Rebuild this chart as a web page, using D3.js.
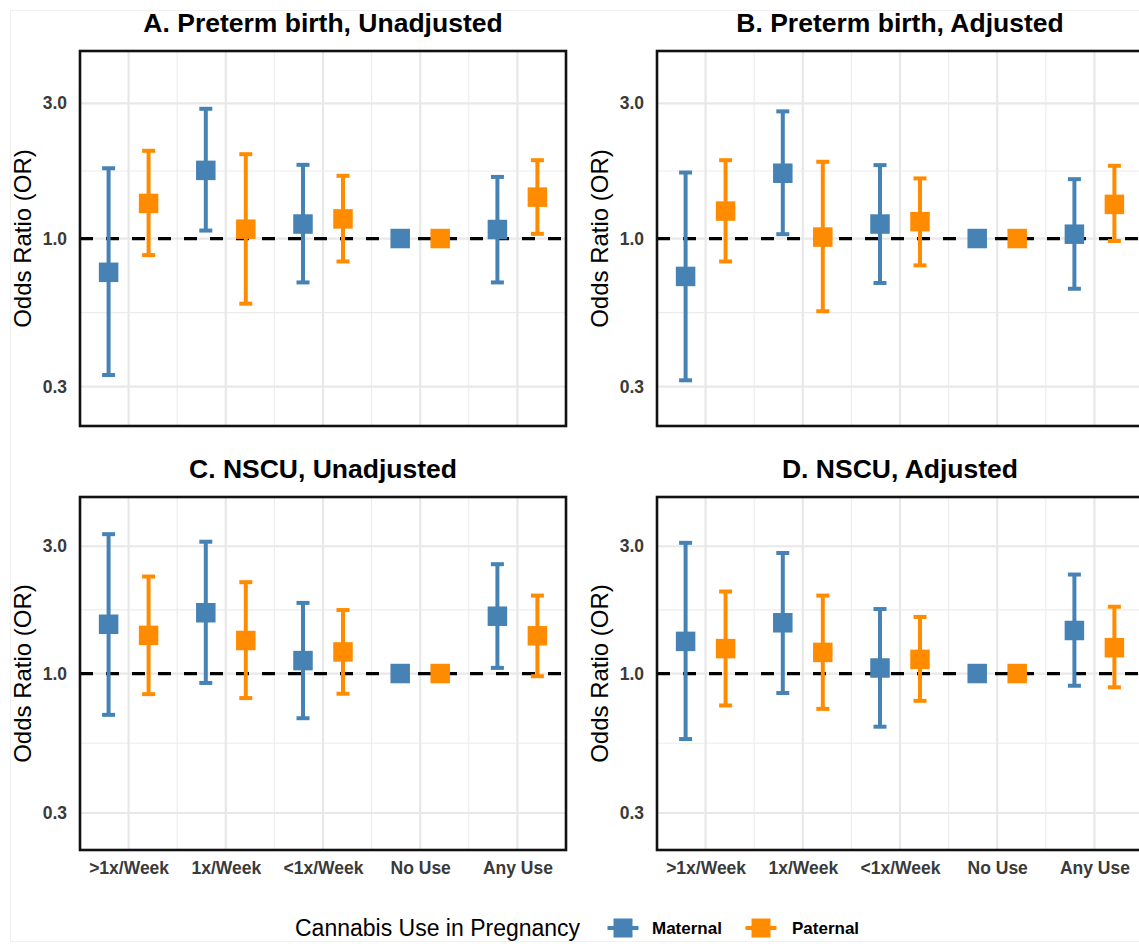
<!DOCTYPE html>
<html>
<head>
<meta charset="utf-8">
<script src="https://cdn.jsdelivr.net/npm/d3@7"></script>
<style>
  body { margin: 0; background: #fff; }
  text { font-family: "Liberation Sans", Arial, sans-serif; }
</style>
</head>
<body>
<script>
var W = 1139, H = 944;

var categories = [">1x/Week", "1x/Week", "<1x/Week", "No Use", "Any Use"];
var groups = ["Maternal", "Paternal"];
var panelTitles = ["A. Preterm birth, Unadjusted", "B. Preterm birth, Adjusted",
                   "C. NSCU, Unadjusted", "D. NSCU, Adjusted"];
var yTicks = [0.3, 1.0, 3.0];

// odds ratios and 95% CI, one row per panel (A, B, C, D), columns follow categories
// "No Use" is the reference group, so it has no interval
var maternalOR = [
  [0.76, 1.74, 1.125, 1, 1.076],
  [0.735, 1.70, 1.125, 1, 1.036],
  [1.53, 1.69, 1.118, 1, 1.64],
  [1.32, 1.55, 1.049, 1, 1.45]
];
var maternalLo = [
  [0.33, 1.067, 0.70, null, 0.70],
  [0.316, 1.036, 0.697, null, 0.665],
  [0.70, 0.922, 0.68, null, 1.05],
  [0.568, 0.845, 0.632, null, 0.90]
];
var maternalHi = [
  [1.77, 2.87, 1.82, null, 1.65],
  [1.71, 2.81, 1.816, null, 1.62],
  [3.33, 3.12, 1.84, null, 2.57],
  [3.09, 2.83, 1.745, null, 2.35]
];
var paternalOR = [
  [1.33, 1.079, 1.173, 1, 1.40],
  [1.25, 1.012, 1.147, 1, 1.32],
  [1.39, 1.33, 1.205, 1, 1.385],
  [1.24, 1.20, 1.13, 1, 1.25]
];
var paternalLo = [
  [0.874, 0.589, 0.83, null, 1.039],
  [0.83, 0.554, 0.804, null, 0.98],
  [0.837, 0.809, 0.84, null, 0.977],
  [0.759, 0.737, 0.79, null, 0.888]
];
var paternalHi = [
  [2.04, 1.985, 1.665, null, 1.89],
  [1.89, 1.866, 1.63, null, 1.806],
  [2.31, 2.20, 1.73, null, 1.96],
  [2.03, 1.96, 1.63, null, 1.78]
];

// panel boxes (B and D run a little past the right edge, as in the source image)
var boxes = [
  {x0: 80, x1: 566, y0: 51, y1: 426},
  {x0: 657, x1: 1143, y0: 51, y1: 426},
  {x0: 80, x1: 566, y0: 497, y1: 850},
  {x0: 657, x1: 1143, y0: 497, y1: 850}
];

var color = d3.scaleOrdinal().domain(groups).range(["#4682B4", "#FF8C00"]);
var dodge = d3.scalePoint().domain(groups).range([-20, 20]);

var svg = d3.select("body").append("svg")
    .attr("width", W)
    .attr("height", H);

svg.append("rect")
    .attr("width", W).attr("height", H)
    .attr("fill", "#fff");
svg.append("rect")
    .attr("x", 10.5).attr("y", 10.5)
    .attr("width", W + 10).attr("height", 931)
    .attr("fill", "none")
    .attr("stroke", "#f0f0f0");

boxes.forEach(function(box, i) {
  var rows = [];
  categories.forEach(function(c, j) {
    rows.push({cat: c, grp: "Maternal", or: maternalOR[i][j], lo: maternalLo[i][j], hi: maternalHi[i][j]});
    rows.push({cat: c, grp: "Paternal", or: paternalOR[i][j], lo: paternalLo[i][j], hi: paternalHi[i][j]});
  });

  var x = d3.scalePoint().domain(categories).range([box.x0, box.x1]).padding(0.5);
  var y = d3.scaleLog().domain([0.218, 4.59]).range([box.y1, box.y0]);
  var step = x.step();

  var g = svg.append("g");

  // minor grid
  var minorY = [Math.sqrt(yTicks[0] * yTicks[1]), Math.sqrt(yTicks[1] * yTicks[2])];
  g.selectAll(".minor-y").data(minorY).enter().append("line")
      .attr("x1", box.x0).attr("x2", box.x1)
      .attr("y1", d => y(d)).attr("y2", d => y(d))
      .attr("stroke", "#ececec").attr("stroke-width", 1.1);
  g.selectAll(".minor-x").data(categories.slice(0, 4)).enter().append("line")
      .attr("x1", d => x(d) + step / 2).attr("x2", d => x(d) + step / 2)
      .attr("y1", box.y0).attr("y2", box.y1)
      .attr("stroke", "#ececec").attr("stroke-width", 1.1);
  // major grid
  g.selectAll(".major-y").data(yTicks).enter().append("line")
      .attr("x1", box.x0).attr("x2", box.x1)
      .attr("y1", d => y(d)).attr("y2", d => y(d))
      .attr("stroke", "#e8e8e8").attr("stroke-width", 2.2);
  g.selectAll(".major-x").data(categories).enter().append("line")
      .attr("x1", d => x(d)).attr("x2", d => x(d))
      .attr("y1", box.y0).attr("y2", box.y1)
      .attr("stroke", "#e8e8e8").attr("stroke-width", 2.2);

  // reference line at OR = 1
  g.append("line")
      .attr("x1", box.x0).attr("x2", box.x1)
      .attr("y1", y(1)).attr("y2", y(1))
      .attr("stroke", "#000").attr("stroke-width", 3.2)
      .attr("stroke-dasharray", "13,13");

  // error bars
  var bars = rows.filter(d => d.lo != null);
  var eb = g.selectAll(".eb").data(bars).enter().append("g")
      .attr("stroke", d => color(d.grp)).attr("stroke-width", 4);
  eb.append("line")
      .attr("x1", d => x(d.cat) + dodge(d.grp)).attr("x2", d => x(d.cat) + dodge(d.grp))
      .attr("y1", d => y(d.lo)).attr("y2", d => y(d.hi));
  eb.append("line")
      .attr("x1", d => x(d.cat) + dodge(d.grp) - 6.5).attr("x2", d => x(d.cat) + dodge(d.grp) + 6.5)
      .attr("y1", d => y(d.lo)).attr("y2", d => y(d.lo));
  eb.append("line")
      .attr("x1", d => x(d.cat) + dodge(d.grp) - 6.5).attr("x2", d => x(d.cat) + dodge(d.grp) + 6.5)
      .attr("y1", d => y(d.hi)).attr("y2", d => y(d.hi));

  // points
  g.selectAll(".pt").data(rows).enter().append("rect")
      .attr("x", d => x(d.cat) + dodge(d.grp) - 9.75)
      .attr("y", d => y(d.or) - 9.75)
      .attr("width", 19.5).attr("height", 19.5)
      .attr("fill", d => color(d.grp));

  // panel border
  g.append("rect")
      .attr("x", box.x0).attr("y", box.y0)
      .attr("width", box.x1 - box.x0).attr("height", box.y1 - box.y0)
      .attr("fill", "none").attr("stroke", "#111").attr("stroke-width", 2.6);

  // y axis
  var ya = g.append("g")
      .attr("transform", "translate(" + box.x0 + ",0)")
      .call(d3.axisLeft(y).tickValues(yTicks).tickFormat(d3.format(".1f")).tickSize(0).tickPadding(13));
  ya.select(".domain").remove();
  ya.selectAll("text")
      .attr("font-family", "Liberation Sans, Arial, sans-serif")
      .attr("font-size", 17.5).attr("font-weight", "bold").attr("fill", "#3a3a3a");

  // x axis on the bottom row
  if (i >= 2) {
    var xa = g.append("g")
        .attr("transform", "translate(0," + box.y1 + ")")
        .call(d3.axisBottom(x).tickSize(0).tickPadding(12));
    xa.select(".domain").remove();
    xa.selectAll("text")
        .attr("font-family", "Liberation Sans, Arial, sans-serif")
        .attr("font-size", 17.5).attr("font-weight", "bold").attr("fill", "#3a3a3a");
  }

  g.append("text")
      .attr("transform", "translate(" + (box.x0 - 49) + "," + ((box.y0 + box.y1) / 2) + ") rotate(-90)")
      .attr("text-anchor", "middle")
      .attr("font-size", 24)
      .text("Odds Ratio (OR)");

  g.append("text")
      .attr("x", (box.x0 + box.x1) / 2)
      .attr("y", box.y0 - 19)
      .attr("text-anchor", "middle")
      .attr("font-size", 26.5).attr("font-weight", "bold")
      .text(panelTitles[i]);
});

// legend
var legend = svg.append("g");
legend.append("text")
    .attr("x", 295).attr("y", 936)
    .attr("font-size", 23)
    .text("Cannabis Use in Pregnancy");

var keyX = [623, 761];
var labelX = [652, 792];
groups.forEach(function(grp, k) {
  legend.append("line")
      .attr("x1", keyX[k] - 15.5).attr("x2", keyX[k] + 15.5)
      .attr("y1", 928).attr("y2", 928)
      .attr("stroke", color(grp)).attr("stroke-width", 4);
  legend.append("rect")
      .attr("x", keyX[k] - 9.5).attr("y", 918.5)
      .attr("width", 19).attr("height", 19)
      .attr("fill", color(grp));
  legend.append("text")
      .attr("x", labelX[k]).attr("y", 934)
      .attr("font-size", 17).attr("font-weight", "bold")
      .text(grp);
});
</script>
</body>
</html>
